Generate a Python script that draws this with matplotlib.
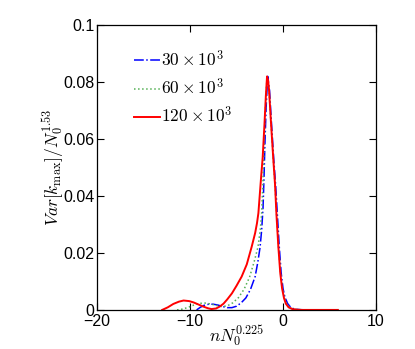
import numpy as np
import matplotlib
matplotlib.use("Agg")
import matplotlib.pyplot as plt

# valori
x_30 = [-9.3, -8.9, -8.5, -8.0, -7.5, -7.0, -6.5, -6.0, -5.5, -5.0, -4.5, -4.0, -3.5,
        -3.0, -2.7, -2.47, -2.3, -2.15, -2.05, -1.95, -1.82, -1.65, -1.45, -1.25,
        -1.0, -0.8, -0.6, -0.4, -0.2, 0.0, 0.2, 0.5, 0.8, 1.2, 1.8, 2.5]
y_30 = [0, 0.0009, 0.0016, 0.002, 0.002, 0.0017, 0.0012, 0.0008, 0.0008, 0.0013,
        0.0025, 0.0042, 0.0072, 0.0117, 0.017, 0.022, 0.028, 0.036, 0.046, 0.058,
        0.071, 0.082, 0.077, 0.066, 0.053, 0.044, 0.033, 0.022, 0.013, 0.0075,
        0.0045, 0.0022, 0.001, 0.0003, 0.0001, 0]

x_60 = [-11.4, -10.8, -10.2, -9.6, -9.0, -8.4, -7.8, -7.2, -6.6, -6.0, -5.4, -4.8,
        -4.2, -3.6, -3.1, -2.7, -2.45, -2.3, -2.17, -2.05, -1.9, -1.72, -1.5, -1.3,
        -1.04, -0.86, -0.68, -0.48, -0.27, -0.07, 0.15, 0.4, 0.7, 1.1, 1.6, 2.5]
y_60 = [0, 0.0003, 0.0009, 0.0017, 0.0023, 0.0024, 0.0021, 0.0016, 0.0012, 0.0014,
        0.0025, 0.0043, 0.0072, 0.0115, 0.017, 0.022, 0.028, 0.034, 0.044, 0.056,
        0.070, 0.082, 0.077, 0.066, 0.0526, 0.044, 0.033, 0.022, 0.013, 0.0075,
        0.0042, 0.0022, 0.0009, 0.0003, 0.0001, 0]

x_120 = [-13.0, -12.4, -11.8, -11.2, -10.7, -10.1, -9.6, -9.1, -8.6, -8.1, -7.7,
         -7.2, -6.8, -6.4, -6.0, -5.5, -5.0, -4.45, -3.9, -3.37, -3.0, -2.8, -2.65,
         -2.5, -2.35, -2.19, -2.0, -1.85, -1.72, -1.6, -1.5, -1.3, -1.04, -0.86,
         -0.7, -0.5, -0.3, -0.1, 0.1, 0.3, 0.6, 1.0, 1.5, 2.0, 4.0, 5.9]
y_120 = [0, 0.0009, 0.0021, 0.0029, 0.0033, 0.0031, 0.0026, 0.0019, 0.0012, 0.0006,
         0.0003, 0.0005, 0.0012, 0.0022, 0.0037, 0.0058, 0.0085, 0.0117, 0.016,
         0.0222, 0.027, 0.0305, 0.034, 0.0405, 0.047, 0.0535, 0.065, 0.075, 0.082,
         0.0805, 0.077, 0.066, 0.0526, 0.044, 0.033, 0.022, 0.013, 0.0075, 0.0042,
         0.0022, 0.0009, 0.0003, 0.0001, 0, 0, 0]

x_ticks = [-20, -10, 0, 10]
x_labels = ["\u221220", "\u221210", "0", "10"]
y_ticks = [0, 0.02, 0.04, 0.06, 0.08, 0.1]
y_labels = ["0", "0.02", "0.04", "0.06", "0.08", "0.1"]

plt.rcParams["mathtext.fontset"] = "cm"
plt.rcParams["font.family"] = ["Liberation Sans", "DejaVu Sans"]

fig = plt.figure(figsize=(4.15, 3.49), dpi=100)
ax = fig.add_axes([0.234, 0.112, 0.672, 0.816])

ax.plot(x_30, y_30, color="blue", linestyle="-.", linewidth=1.1,
        label=r"$30\times10^3$")
ax.plot(x_60, y_60, color="#55b055", linestyle=":", linewidth=1.1,
        label=r"$60\times10^3$")
ax.plot(x_120, y_120, color="red", linestyle="-", linewidth=1.4,
        label=r"$120\times10^3$")

ax.set_xlim(-20, 10)
ax.set_ylim(0, 0.1)
ax.set_xticks(x_ticks)
ax.set_xticklabels(x_labels)
ax.set_yticks(y_ticks)
ax.set_yticklabels(y_labels)
ax.tick_params(direction="in", top=True, right=True, length=5, width=0.8,
               labelsize=11.5, pad=2)
ax.tick_params(axis="x", pad=3)
for s in ax.spines.values():
    s.set_linewidth(0.9)

ax.set_xlabel(r"$nN_0^{0.225}$", fontsize=12.5, labelpad=-4)
ax.set_ylabel(r"$Var[k_{\max}]/N_0^{1.53}$", fontsize=12.5, labelpad=-2)

ax.legend(loc="upper left", bbox_to_anchor=(0.075, 0.97), frameon=False,
          fontsize=12.5, handlelength=1.5, handletextpad=0.05, labelspacing=0.45)

fig.savefig("out.png", dpi=100)
